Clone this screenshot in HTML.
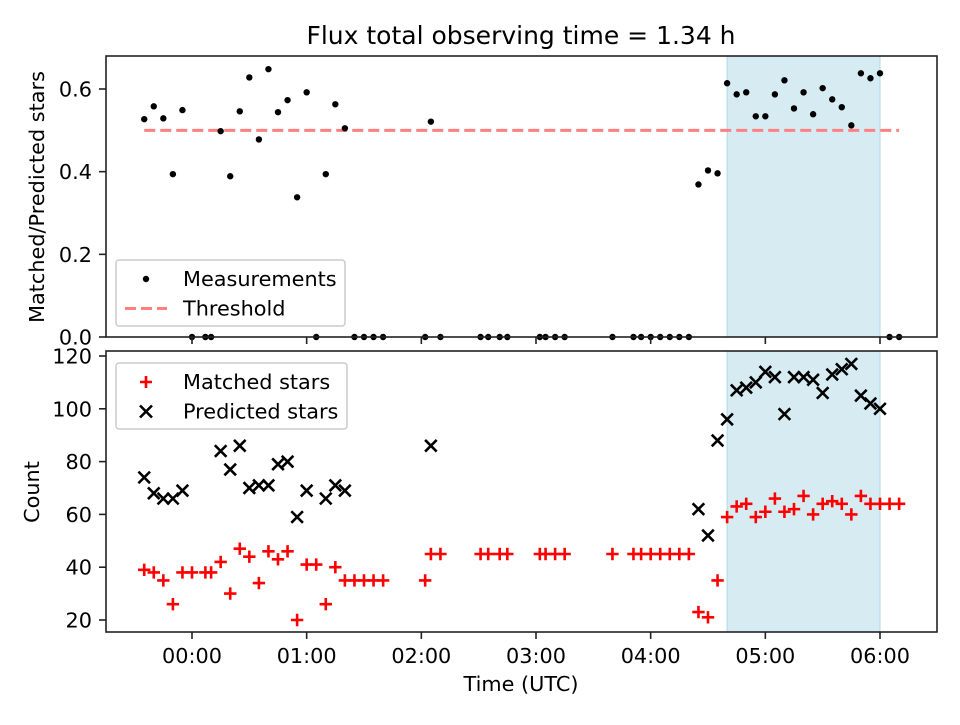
<!DOCTYPE html>
<html><head><meta charset="utf-8"><style>
body{margin:0;background:#fff}
svg{font-family:"DejaVu Sans","Liberation Sans",sans-serif}
</style></head><body>
<svg id="c" width="960" height="720" xmlns="http://www.w3.org/2000/svg"></svg>
<script>
const times=[-25,-20,-15,-10,-5,0,7,10,15,20,25,30,35,40,45,50,55,60,65,70,75,80,85,90,95,100,122,125,130,151,155,161,165,182,185,190,195,220,231,235,240,245,250,255,260,265,270,275,280,285,290,295,300,305,310,315,320,325,330,335,340,345,350,355,360,365,370];
const ratio=[.527,.558,.529,.394,.549,0,0,0,.498,.389,.546,.628,.478,.648,.544,.573,.338,.592,0,.394,.563,.505,0,0,0,0,0,.521,0,0,0,0,0,0,0,0,0,0,0,0,0,0,0,0,0,.369,.403,.396,.614,.587,.592,.534,.534,.587,.621,.553,.592,.539,.602,.575,.556,.512,.638,.626,.638,0,0];
const matched=[39,38,35,26,38,38,38,38,42,30,47,44,34,46,43,46,20,41,41,26,40,35,35,35,35,35,35,45,45,45,45,45,45,45,45,45,45,45,45,45,45,45,45,45,45,23,21,35,59,63,64,59,61,66,61,62,67,60,64,65,64,60,67,64,64,64,64];
const predicted=[74,68,66,66,69,null,null,null,84,77,86,70,71,71,79,80,59,69,null,66,71,69,null,null,null,null,null,86,null,null,null,null,null,null,null,null,null,null,null,null,null,null,null,null,null,62,52,88,96,107,108,110,114,112,98,112,112,111,106,113,115,117,105,102,100,null,null];
const threshold=0.5;
const shadeStart=280, shadeEnd=360;
const xTickMins=[0,60,120,180,240,300,360];
const xTickLabels=["00:00","01:00","02:00","03:00","04:00","05:00","06:00"];
const yTopTicks=[0,0.2,0.4,0.6];
const yBotTicks=[20,40,60,80,100,120];

const svg=document.getElementById('c');const NS="http://www.w3.org/2000/svg";
function mk(t,a,p){const e=document.createElementNS(NS,t);for(const k in a)e.setAttribute(k,a[k]);(p||svg).appendChild(e);return e;}
const L=106,R=937,T1=56,B1=337,T2=351,B2=632;
const FS=20.8;
const X=m=>192+m*(880-192)/360;
const Y1=v=>337-v*(337-89)/0.6;
const Y2=v=>620-(v-20)*(620-356)/100;

let t=mk('text',{x:521,y:44,'font-size':'25','text-anchor':'middle'});t.textContent='Flux total observing time = 1.34 h';



[[T1,B1],[T2,B2]].forEach(([a,b],i)=>{const r=mk('rect',{x:X(shadeStart),y:a,width:X(shadeEnd)-X(shadeStart),height:b-a,fill:'#add8e6','fill-opacity':0.5,stroke:'#add8e6','stroke-width':1});

});

let th=mk('line',{x1:X(times[0]),x2:X(times[times.length-1]),y1:Y1(threshold),y2:Y1(threshold),stroke:'#ff8080','stroke-width':3,'stroke-dasharray':'11,5'});



const gm=mk('g',{});


times.forEach((m,i)=>{const c=mk('circle',{cx:X(m),cy:Y1(ratio[i]),r:3.2,fill:'#000'},gm);

});

const gp=mk('g',{stroke:'#000','stroke-width':2.6});


times.forEach((m,i)=>{if(predicted[i]==null)return;const x=X(m),y=Y2(predicted[i]),s=5.8;
const p=mk('path',{d:`M${x-s},${y-s}L${x+s},${y+s}M${x-s},${y+s}L${x+s},${y-s}`},gp);

});

const gmt=mk('g',{stroke:'#f00','stroke-width':2.6});


times.forEach((m,i)=>{const x=X(m),y=Y2(matched[i]),s=6.2;
const p=mk('path',{d:`M${x-s},${y}L${x+s},${y}M${x},${y-s}L${x},${y+s}`},gmt);

});

[[T1,B1,'top-axes'],[T2,B2,'bottom-axes']].forEach(([a,b,n])=>{const r=mk('rect',{x:L,y:a,width:R-L,height:b-a,fill:'none',stroke:'#222','stroke-width':1.6});

});

xTickMins.forEach((m,i)=>{const x=X(m);
mk('line',{x1:x,x2:x,y1:B1,y2:B1+7,stroke:'#222','stroke-width':1.6});
mk('line',{x1:x,x2:x,y1:B2,y2:B2+7,stroke:'#222','stroke-width':1.6});
const tx=mk('text',{x:x,y:B2+31,'font-size':FS,'text-anchor':'middle'});tx.textContent=xTickLabels[i];

});
yTopTicks.forEach(v=>{const y=Y1(v);mk('line',{x1:L-7,x2:L,y1:y,y2:y,stroke:'#222','stroke-width':1.6});
const tx=mk('text',{x:L-14,y:y+7.5,'font-size':FS,'text-anchor':'end'});tx.textContent=v.toFixed(1);

});
yBotTicks.forEach(v=>{const y=Y2(v);mk('line',{x1:L-7,x2:L,y1:y,y2:y,stroke:'#222','stroke-width':1.6});
const tx=mk('text',{x:L-14,y:y+7.5,'font-size':FS,'text-anchor':'end'});tx.textContent=v;

});

t=mk('text',{x:521,y:691,'font-size':FS,'text-anchor':'middle'});t.textContent='Time (UTC)';

t=mk('text',{x:0,y:0,'font-size':FS,'text-anchor':'middle',transform:'translate(44,197) rotate(-90)'});t.textContent='Matched/Predicted stars';

t=mk('text',{x:0,y:0,'font-size':FS,'text-anchor':'middle',transform:'translate(39,492) rotate(-90)'});t.textContent='Count';


function legend(x,y,w,h,items,name){const g=mk('g',{});

mk('rect',{x:x,y:y,width:w,height:h,rx:3,fill:'#fff','fill-opacity':0.8,stroke:'#ccc','stroke-width':1.5},g);
items.forEach((it,i)=>{const cy=y+19+i*29.5;const mx=x+30;
if(it[0]==='dot')mk('circle',{cx:mx,cy:cy,r:3.2,fill:'#000'},g);
if(it[0]==='dash')mk('line',{x1:x+9,x2:x+51,y1:cy,y2:cy,stroke:'#ff8080','stroke-width':3,'stroke-dasharray':'11,5'},g);
if(it[0]==='plus')mk('path',{d:`M${mx-6},${cy}h12M${mx},${cy-6}v12`,stroke:'#f00','stroke-width':2.6},g);
if(it[0]==='x')mk('path',{d:`M${mx-6},${cy-6}l12,12M${mx-6},${cy+6}l12,-12`,stroke:'#000','stroke-width':2.6},g);
const tx=mk('text',{x:x+67,y:cy+7,'font-size':FS},g);tx.textContent=it[1];
});}
legend(116,260,229,66,[['dot','Measurements'],['dash','Threshold']],'top-legend');
legend(116,363,231,66,[['plus','Matched stars'],['x','Predicted stars']],'bottom-legend');
</script>
</body></html>
